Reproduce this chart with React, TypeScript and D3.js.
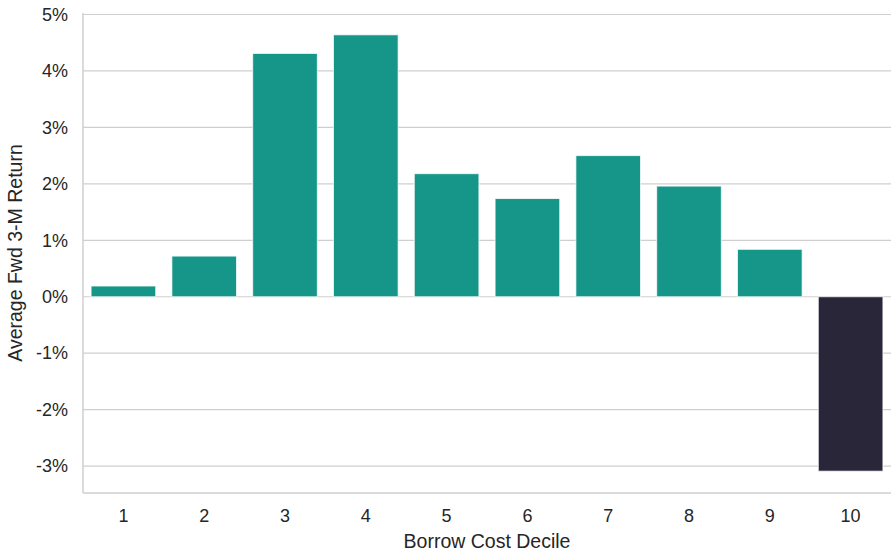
import React from "react";
import * as d3 from "d3";

const deciles = ["1", "2", "3", "4", "5", "6", "7", "8", "9", "10"];
const avgReturn = [0.19, 0.72, 4.31, 4.64, 2.18, 1.74, 2.5, 1.96, 0.84, -3.09];
const barColors = ["#169689", "#169689", "#169689", "#169689", "#169689", "#169689", "#169689", "#169689", "#169689", "#29263a"];
const yTicks = [-3, -2, -1, 0, 1, 2, 3, 4, 5];
const xTitle = "Borrow Cost Decile";
const yTitle = "Average Fwd 3-M Return";

const W = 895;
const H = 555;
const M = { left: 83, right: 4, top: 13, bottom: 62 };

export default function App() {
  const x = d3
    .scaleBand<string>()
    .domain(deciles)
    .range([M.left, W - M.right])
    .paddingInner(0.2)
    .paddingOuter(0.1);
  const lo = d3.min(avgReturn)!;
  const hi = d3.max(avgReturn)!;
  const pad = (hi - lo) * 0.05;
  const y = d3.scaleLinear().domain([lo - pad, hi + pad]).range([H - M.bottom, M.top]);
  const font = "Arial, 'Liberation Sans', sans-serif";
  const textColor = "#262626";
  const gridColor = "#cfcfcf";
  const y0 = y(0);
  return (
    <svg width={W} height={H} style={{ position: "absolute", left: 0, top: 0 }} fontFamily={font}>
      <rect width={W} height={H} fill="#ffffff" />
      {yTicks.map((t) => (
        <g key={t}>
          <line x1={M.left} x2={W - M.right} y1={y(t)} y2={y(t)} stroke={gridColor} strokeWidth={1.2} />
          <text x={M.left - 15} y={y(t)} dy="0.35em" textAnchor="end" fontSize={18} fill={textColor}>
            {`${t}%`}
          </text>
        </g>
      ))}
      {deciles.map((d, i) => {
        const v = avgReturn[i];
        const top = Math.min(y(v), y0);
        const h = Math.abs(y(v) - y0);
        return (
          <rect
            key={d}
            x={x(d)!}
            y={top}
            width={x.bandwidth()}
            height={h}
            fill={barColors[i]}
            stroke="#ffffff"
            strokeOpacity={0.75}
            strokeWidth={1}
          />
        );
      })}
      <line x1={M.left} x2={M.left} y1={M.top} y2={H - M.bottom} stroke={gridColor} strokeWidth={1.5} />
      <line x1={M.left} x2={W - M.right} y1={H - M.bottom} y2={H - M.bottom} stroke={gridColor} strokeWidth={1.5} />
      {deciles.map((d) => (
        <text key={d} x={x(d)! + x.bandwidth() / 2} y={516} dy="0.35em" textAnchor="middle" fontSize={18} fill={textColor}>
          {d}
        </text>
      ))}
      <text x={(M.left + W - M.right) / 2} y={541} dy="0.35em" textAnchor="middle" fontSize={19.5} fill={textColor}>
        {xTitle}
      </text>
      <text
        transform={`translate(15, ${(M.top + H - M.bottom) / 2}) rotate(-90)`}
        dy="0.35em"
        textAnchor="middle"
        fontSize={19.5}
        fill={textColor}
      >
        {yTitle}
      </text>
    </svg>
  );
}
